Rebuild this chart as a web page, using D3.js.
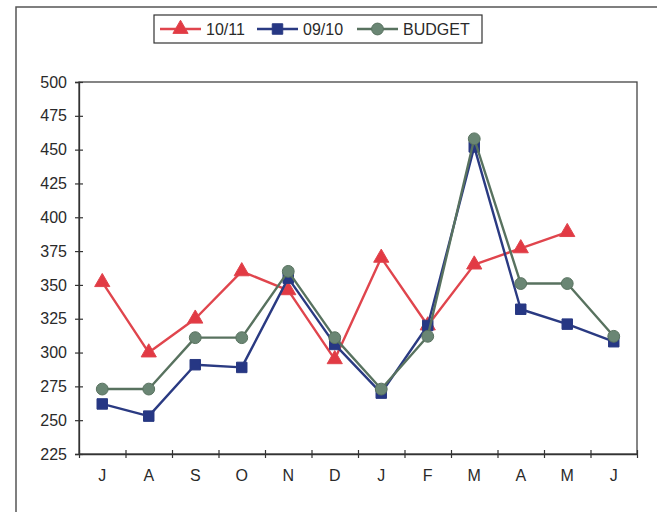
<!DOCTYPE html>
<html>
<head>
<meta charset="utf-8">
<script src="https://cdn.jsdelivr.net/npm/d3@7"></script>
<style>
  html, body { margin: 0; padding: 0; background: #fff; }
  svg { display: block; font-family: "Liberation Sans", Arial, sans-serif; }
</style>
</head>
<body>
<svg id="chart" width="657" height="512"></svg>
<script>
var months = ["J", "A", "S", "O", "N", "D", "J", "F", "M", "A", "M", "J"];
var yTicks = [225, 250, 275, 300, 325, 350, 375, 400, 425, 450, 475, 500];

var fy1011 = [352, 300, 325, 360, 346, 295, 370, 320, 365, 377, 389, null];
var fy0910 = [262, 253, 291, 289, 355, 306, 270, 320, 452, 332, 321, 308];
var budget = [273, 273, 311, 311, 360, 311, 273, 312, 458, 351, 351, 312];

var series = [
    {name: "10/11", values: fy1011, color: "#e0454d", fill: "#e23a44", shape: "triangle"},
    {name: "09/10", values: fy0910, color: "#2a3a82", fill: "#263784", shape: "square"},
    {name: "BUDGET", values: budget, color: "#58725f", fill: "#6a8674", shape: "circle"}
];

// plot area edges (window.top is read-only, so no bare "top")
var plotLeft = 79, plotRight = 637, plotTop = 82, plotBottom = 454;

var svg = d3.select("#chart");

// outer frame, cut off on the right and bottom like the scan
svg.append("path")
    .attr("d", "M16,520 L16,7 L670,7")
    .attr("fill", "none")
    .attr("stroke", "#555")
    .attr("stroke-width", 1.5);

var x = d3.scaleBand()
    .domain(d3.range(months.length))
    .range([plotLeft, plotRight])
    .padding(0);

var xEdge = d3.scaleLinear()
    .domain([0, months.length])
    .range([plotLeft, plotRight]);

var y = d3.scaleLinear()
    .domain([225, 500])
    .range([plotBottom, plotTop]);

// plot area box
svg.append("rect")
    .attr("x", plotLeft)
    .attr("y", plotTop)
    .attr("width", plotRight - plotLeft)
    .attr("height", plotBottom - plotTop)
    .attr("fill", "none")
    .attr("stroke", "#444")
    .attr("stroke-width", 1.3);

// y axis
var yAxis = svg.append("g")
    .attr("transform", "translate(" + plotLeft + ",0)")
    .call(d3.axisLeft(y).tickValues(yTicks).tickSize(4).tickPadding(8));
yAxis.select(".domain").attr("stroke", "#333").attr("stroke-width", 1.3);
yAxis.selectAll(".tick line").attr("x1", 4).attr("x2", -4).attr("stroke", "#333").attr("stroke-width", 1.2);
yAxis.selectAll(".tick text").attr("font-size", 16).attr("fill", "#2a2a2a")
    .attr("font-family", "Liberation Sans, Arial, sans-serif");

// x axis labels
var xAxis = svg.append("g")
    .attr("transform", "translate(0," + plotBottom + ")")
    .call(d3.axisBottom(x).tickFormat(function(i) { return months[i]; }).tickSize(0).tickPadding(16));
xAxis.select(".domain").attr("stroke", "#333").attr("stroke-width", 1.3);
xAxis.selectAll(".tick text").attr("font-size", 16).attr("fill", "#2a2a2a")
    .attr("font-family", "Liberation Sans, Arial, sans-serif");

// x ticks between categories
var xTicks = svg.append("g")
    .attr("transform", "translate(0," + plotBottom + ")")
    .call(d3.axisBottom(xEdge).ticks(months.length).tickSize(4).tickFormat(""));
xTicks.select(".domain").remove();
xTicks.selectAll(".tick line").attr("y1", -4).attr("y2", 4).attr("stroke", "#333").attr("stroke-width", 1.2);

var cx = function(i) { return x(i) + x.bandwidth() / 2; };

var line = d3.line()
    .defined(function(d) { return d != null; })
    .x(function(d, i) { return cx(i); })
    .y(function(d) { return y(d); });

var symbolFor = function(shape) {
    if (shape == "triangle") return d3.symbol().type(d3.symbolTriangle).size(100)();
    if (shape == "square") return d3.symbol().type(d3.symbolSquare).size(110)();
    return d3.symbol().type(d3.symbolCircle).size(110)();
};

series.forEach(function(s) {
    var g = svg.append("g");
    g.append("path")
        .attr("d", line(s.values))
        .attr("fill", "none")
        .attr("stroke", s.color)
        .attr("stroke-width", 2.4)
        .attr("stroke-linejoin", "round");

    g.selectAll("path.mark")
        .data(s.values.map(function(v, i) { return {v: v, i: i}; }).filter(function(d) { return d.v != null; }))
        .enter().append("path")
        .attr("class", "mark")
        .attr("d", symbolFor(s.shape))
        .attr("transform", function(d) { return "translate(" + cx(d.i) + "," + y(d.v) + ")"; })
        .attr("fill", s.fill)
        .attr("stroke", s.color)
        .attr("stroke-width", 1);
});

// legend
var legend = svg.append("g");
legend.append("rect")
    .attr("x", 154)
    .attr("y", 15)
    .attr("width", 328)
    .attr("height", 28)
    .attr("fill", "#fff")
    .attr("stroke", "#333")
    .attr("stroke-width", 1.2);

var legendX = [160, 257, 357];
series.forEach(function(s, k) {
    var lx = legendX[k];
    legend.append("line")
        .attr("x1", lx).attr("x2", lx + 41)
        .attr("y1", 29).attr("y2", 29)
        .attr("stroke", s.color)
        .attr("stroke-width", 2.4);
    legend.append("path")
        .attr("d", symbolFor(s.shape))
        .attr("transform", "translate(" + (lx + 20.5) + ",29)")
        .attr("fill", s.fill)
        .attr("stroke", s.color);
    legend.append("text")
        .attr("x", lx + 46)
        .attr("y", 35)
        .attr("font-size", 16)
        .attr("fill", "#2a2a2a")
        .text(s.name);
});
</script>
</body>
</html>
